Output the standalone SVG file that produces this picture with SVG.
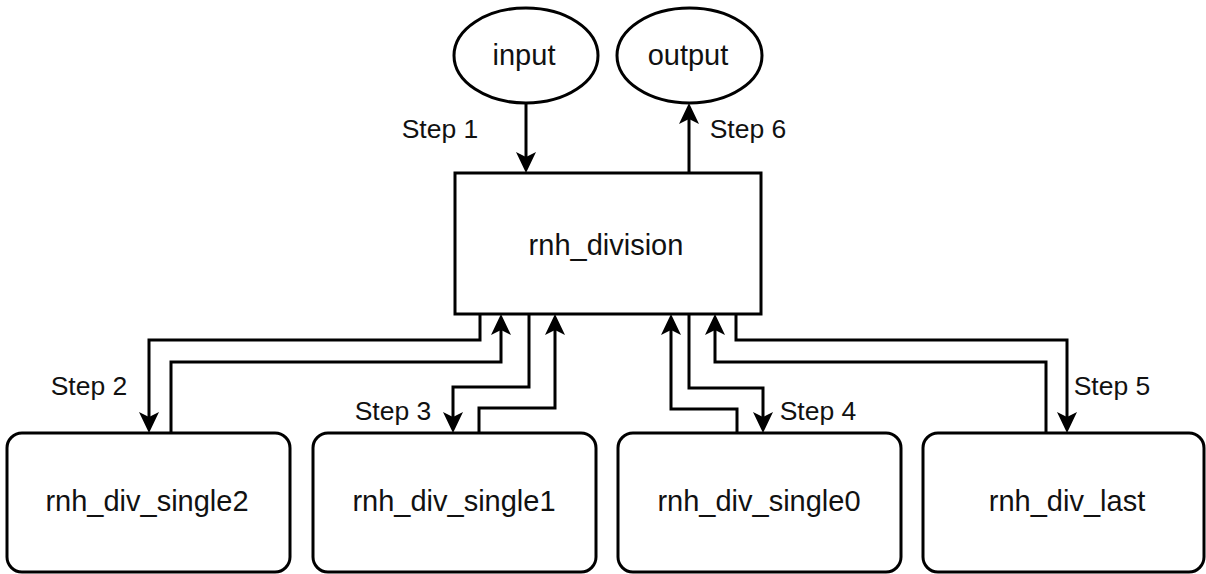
<svg xmlns="http://www.w3.org/2000/svg" width="1206" height="574" viewBox="0 0 1206 574">
  <style>
    .shape { fill: #ffffff; stroke: #000000; stroke-width: 3; }
    .label { font-family: "Liberation Sans", Arial, sans-serif; font-size: 29px; fill: #111111; text-anchor: middle; }
    .step { font-family: "Liberation Sans", Arial, sans-serif; font-size: 26.5px; fill: #111111; text-anchor: middle; }
    .wire { fill: none; stroke: #000000; stroke-width: 3; stroke-linejoin: miter; marker-end: url(#arrow); }
  </style>
  <defs>
    <marker id="arrow" viewBox="0 0 21 20" refX="13" refY="10" markerWidth="21" markerHeight="20" markerUnits="userSpaceOnUse" orient="auto">
      <path d="M0,0 L21,10 L0,20 L5,10 Z" fill="#000000"/>
    </marker>
  </defs>

  <rect width="1206" height="574" fill="#ffffff"/>

  <!-- connectors (each line stops 8px short of the target; the arrowhead covers the rest) -->
  <g id="connectors">
    <path class="wire" d="M526,103 V165"/>
    <path class="wire" d="M689,173 V111"/>
    <path class="wire" d="M480,314 V340 H149 V425"/>
    <path class="wire" d="M171,433 V362 H501 V322"/>
    <path class="wire" d="M529,314 V387 H453 V425"/>
    <path class="wire" d="M479,433 V408 H555 V322"/>
    <path class="wire" d="M737,433 V409 H671 V322"/>
    <path class="wire" d="M689,314 V388 H763 V425"/>
    <path class="wire" d="M1046,433 V362 H715 V322"/>
    <path class="wire" d="M736,314 V340 H1067 V425"/>
    <text class="step" x="440" y="138">Step 1</text>
    <text class="step" x="748" y="138">Step 6</text>
    <text class="step" x="89" y="395">Step 2</text>
    <text class="step" x="393" y="420">Step 3</text>
    <text class="step" x="818" y="420">Step 4</text>
    <text class="step" x="1112" y="395">Step 5</text>
  </g>

  <g id="input">
    <ellipse class="shape" cx="526" cy="55.5" rx="72" ry="47.5"/>
    <text class="label" x="524" y="65">input</text>
  </g>
  <g id="output">
    <ellipse class="shape" cx="689.5" cy="55.5" rx="72.5" ry="47.5"/>
    <text class="label" x="688" y="65">output</text>
  </g>
  <g id="rnh_division">
    <rect class="shape" x="455" y="173" width="306" height="141"/>
    <text class="label" x="606" y="255">rnh_division</text>
  </g>
  <g id="rnh_div_single2">
    <rect class="shape" x="7" y="433" width="283" height="139" rx="15" ry="15"/>
    <text class="label" x="147" y="511">rnh_div_single2</text>
  </g>
  <g id="rnh_div_single1">
    <rect class="shape" x="313" y="433" width="283" height="139" rx="15" ry="15"/>
    <text class="label" x="454" y="511">rnh_div_single1</text>
  </g>
  <g id="rnh_div_single0">
    <rect class="shape" x="618" y="433" width="283" height="139" rx="15" ry="15"/>
    <text class="label" x="759" y="511">rnh_div_single0</text>
  </g>
  <g id="rnh_div_last">
    <rect class="shape" x="923" y="433" width="281" height="139" rx="15" ry="15"/>
    <text class="label" x="1067" y="511">rnh_div_last</text>
  </g>
</svg>
